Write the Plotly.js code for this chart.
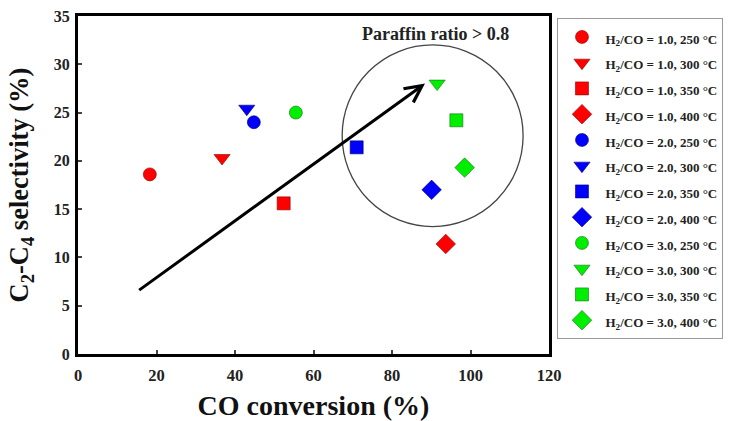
<!DOCTYPE html>
<html>
<head>
<meta charset="utf-8">
<script src="https://cdn.plot.ly/plotly-3.0.1.min.js"></script>
<style>html,body{margin:0;padding:0;background:#fff;}#chart{width:731px;height:421px;}</style>
</head>
<body>
<div id="chart"></div>
<script>
// Data
const seriesNames = [
  "H<sub>2</sub>/CO = 1.0, 250 °C", "H<sub>2</sub>/CO = 1.0, 300 °C",
  "H<sub>2</sub>/CO = 1.0, 350 °C", "H<sub>2</sub>/CO = 1.0, 400 °C",
  "H<sub>2</sub>/CO = 2.0, 250 °C", "H<sub>2</sub>/CO = 2.0, 300 °C",
  "H<sub>2</sub>/CO = 2.0, 350 °C", "H<sub>2</sub>/CO = 2.0, 400 °C",
  "H<sub>2</sub>/CO = 3.0, 250 °C", "H<sub>2</sub>/CO = 3.0, 300 °C",
  "H<sub>2</sub>/CO = 3.0, 350 °C", "H<sub>2</sub>/CO = 3.0, 400 °C"
];
const coConversion = [18.3, 36.7, 52.4, 93.7, 44.8, 43.0, 71.0, 90.1, 55.5, 91.5, 96.4, 98.5];
const c2c4Selectivity = [18.6, 20.3, 15.6, 11.4, 24.0, 25.4, 21.4, 17.0, 25.0, 28.0, 24.2, 19.3];
const xTicks = [0, 20, 40, 60, 80, 100, 120];
const yTicks = [0, 5, 10, 15, 20, 25, 30, 35];
const arrowStart = [15.2, 6.5];
const arrowEnd = [88.4, 28.0];
const circleBox = [67.3, 13.2, 113.4, 32.0];
const noteText = "Paraffin ratio > 0.8";

const colors = ["#ff0000", "#0000ff", "#00ee00"];
const edge = ["#8b0000", "#00006b", "#1a6b1a"];
const symbols = ["circle", "triangle-down", "square", "diamond"];
const sizes = [13, 14, 13, 15];

const serif = "Liberation Serif, Times New Roman, serif";
const traces = seriesNames.map((name, i) => {
  const g = Math.floor(i / 4), s = i % 4;
  return {
    type: "scatter", mode: "markers",
    name: '<span style="font-size:13px">' + name + '</span>',
    x: [coConversion[i]], y: [c2c4Selectivity[i]],
    marker: {symbol: symbols[s], size: sizes[s], color: colors[g],
             line: {color: edge[g], width: 0.6}}
  };
});

const layout = {
  width: 731, height: 421,
  margin: {l: 78, r: 182, t: 16, b: 67, autoexpand: false},
  paper_bgcolor: "#fff", plot_bgcolor: "#fff",
  showlegend: true,
  font: {family: serif, color: "#000"},
  legend: {x: 1.018, y: 0.994, xanchor: "left", yanchor: "top",
           bordercolor: "#999", borderwidth: 1,
           maxheight: 1,
           font: {family: serif, size: 17.5, weight: "bold", color: "#222"},
           itemwidth: 37},
  xaxis: {range: [0, 120], tickvals: xTicks, ticks: "inside", ticklen: 4, tickwidth: 2,
          showline: true, linewidth: 3, linecolor: "#000", mirror: true,
          showgrid: false, zeroline: false, ticklabelstandoff: 4,
          tickfont: {family: serif, size: 16.5, weight: "bold", color: "#222"},
          title: {text: "CO conversion (%)", font: {family: serif, size: 28, weight: "bold", color: "#111"}, standoff: 12}},
  yaxis: {range: [0, 35], tickvals: yTicks, ticks: "inside", ticklen: 4, tickwidth: 2,
          showline: true, linewidth: 3, linecolor: "#000", mirror: true,
          showgrid: false, zeroline: false, ticklabelstandoff: 2,
          tickfont: {family: serif, size: 16, weight: "bold", color: "#222"},
          title: {text: "C<sub>2</sub>-C<sub>4</sub> selectivity (%)", font: {family: serif, size: 26.5, weight: "bold", color: "#111"}, standoff: 18}},
  shapes: [{type: "circle", xref: "x", yref: "y",
            x0: circleBox[0], y0: circleBox[1], x1: circleBox[2], y1: circleBox[3],
            line: {color: "#444", width: 1.3}}],
  annotations: [
    {x: arrowEnd[0], y: arrowEnd[1], ax: arrowStart[0], ay: arrowStart[1],
     xref: "x", yref: "y", axref: "x", ayref: "y", text: "",
     showarrow: true, arrowhead: 5, arrowsize: 1.1, arrowwidth: 3, arrowcolor: "#000"},
    {x: 91, y: 33.1, xref: "x", yref: "y", text: noteText, showarrow: false,
     font: {family: serif, size: 18, weight: "bold", color: "#222"}}
  ]
};

Plotly.newPlot("chart", traces, layout, {displayModeBar: false, staticPlot: true});
</script>
</body>
</html>
